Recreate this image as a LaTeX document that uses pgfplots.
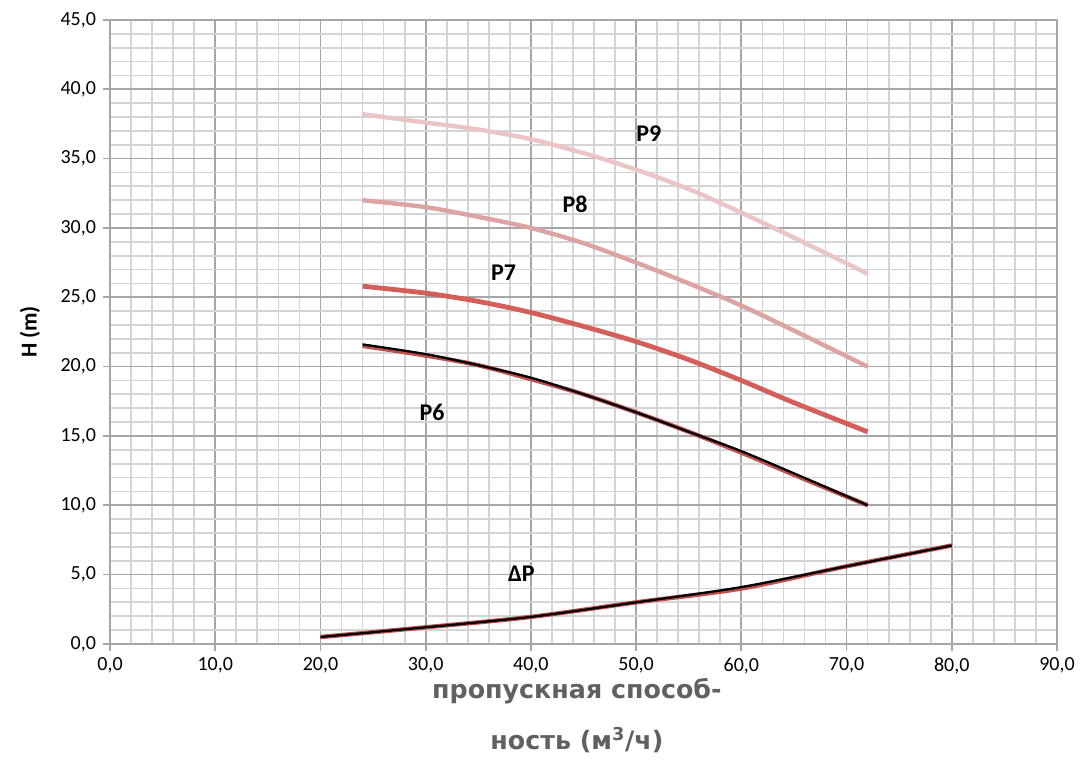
\documentclass[border=0pt]{standalone}
\usepackage{pgfplots}
\pgfplotsset{compat=1.18}
\usepackage{fontspec}
\setmainfont{Carlito}
\newfontfamily\labfont{DejaVu Sans}
\definecolor{cP9}{HTML}{EBC5C5}
\definecolor{cP8}{HTML}{DCA3A3}
\definecolor{cP7}{HTML}{D45F5A}
\definecolor{cRed}{HTML}{C0504D}
\definecolor{majg}{HTML}{A6A6A6}
\definecolor{ming}{HTML}{D4D4D4}
\definecolor{xlab}{HTML}{606060}
\begin{document}
\begin{tikzpicture}
\begin{axis}[
  scale only axis,
  width=710.25pt, height=468pt,
  xmin=0, xmax=90, ymin=0, ymax=45,
  xtick={0,10,...,90}, ytick={0,5,...,45},
  minor xtick={2,4,6,8,12,14,16,18,22,24,26,28,32,34,36,38,42,44,46,48,52,54,56,58,62,64,66,68,72,74,76,78,82,84,86,88},
  minor ytick={1,2,3,4,6,7,8,9,11,12,13,14,16,17,18,19,21,22,23,24,26,27,28,29,31,32,33,34,36,37,38,39,41,42,43,44},
  grid=both,
  major grid style={majg, line width=1.3pt},
  minor grid style={ming, line width=1.3pt},
  axis line style={majg, line width=1.3pt},
  tick style={majg, line width=1.3pt},
  tick align=outside,
  major tick length=5pt, minor tick length=0pt,
  xtick pos=bottom, ytick pos=left,
  tick label style={font=\fontsize{15}{18}\selectfont, black},
  /pgf/number format/.cd, fixed, fixed zerofill, precision=1, use comma, assume math mode=true,
  /pgfplots/.cd,
  xticklabel style={yshift=-2pt},
  yticklabel style={xshift=-2pt},
  ylabel={\bfseries H (m)},
  ylabel style={font=\fontsize{17}{20}\selectfont, at={(rel axis cs:-0.0845,0.5)}, anchor=center},
  xlabel={\labfont\bfseries\color{xlab}\begin{tabular}{c}пропускная способ-\\[12pt]ность (м\textsuperscript{3}/ч)\end{tabular}},
  xlabel style={font=\fontsize{19}{26}\selectfont, at={(rel axis cs:0.493,-0.117)}, anchor=center},
  clip=false,
]
\path (rel axis cs:-0.1162,-0.189) rectangle (rel axis cs:1.0243,1.032);
% P9
\addplot[cP9, line width=3.3pt, smooth] coordinates {
 (24,38.2) (30,37.6) (35,37.1) (40,36.4) (45,35.4) (50,34.2) (55,32.8) (60,31.1) (65,29.3) (72,26.7)};
% P8
\addplot[cP8, line width=3.3pt, smooth] coordinates {
 (24,32.0) (30,31.5) (35,30.8) (40,30.0) (45,28.9) (50,27.5) (55,26.0) (60,24.4) (65,22.6) (72,20.0)};
% P7
\addplot[cP7, line width=3.6pt, smooth] coordinates {
 (24,25.8) (30,25.3) (35,24.7) (40,23.9) (45,22.9) (50,21.8) (55,20.5) (60,19.0) (65,17.4) (72,15.3)};
% P6
\addplot[cRed, line width=3.3pt, smooth] coordinates {
 (24,21.5) (30,20.8) (35,20.1) (40,19.1) (45,18.0) (50,16.7) (55,15.3) (60,13.8) (65,12.2) (72,10.0)};
\addplot[black, line width=1.7pt, smooth] coordinates {
 (24,21.6) (30,20.9) (35,20.1) (40,19.2) (45,18.0) (50,16.7) (55,15.3) (60,13.9) (65,12.3) (72,10.0)};
% dP
\addplot[cRed, line width=3.3pt, smooth] coordinates {
 (20,0.5) (30,1.2) (40,1.95) (50,3.0) (60,4.0) (70,5.6) (80,7.1)};
\addplot[black, line width=1.7pt, smooth] coordinates {
 (20,0.5) (30,1.2) (40,1.95) (50,3.0) (60,4.1) (70,5.6) (80,7.1)};
\node[font=\fontsize{18}{20}\selectfont\bfseries] at (axis cs:51.2,36.8) {P9};
\node[font=\fontsize{18}{20}\selectfont\bfseries] at (axis cs:44.2,31.7) {P8};
\node[font=\fontsize{18}{20}\selectfont\bfseries] at (axis cs:37.4,26.8) {P7};
\node[font=\fontsize{18}{20}\selectfont\bfseries] at (axis cs:30.6,16.7) {P6};
\node[font=\fontsize{18}{20}\selectfont\bfseries] at (axis cs:39.1,5.1) {ΔP};
\end{axis}
\end{tikzpicture}
\end{document}
